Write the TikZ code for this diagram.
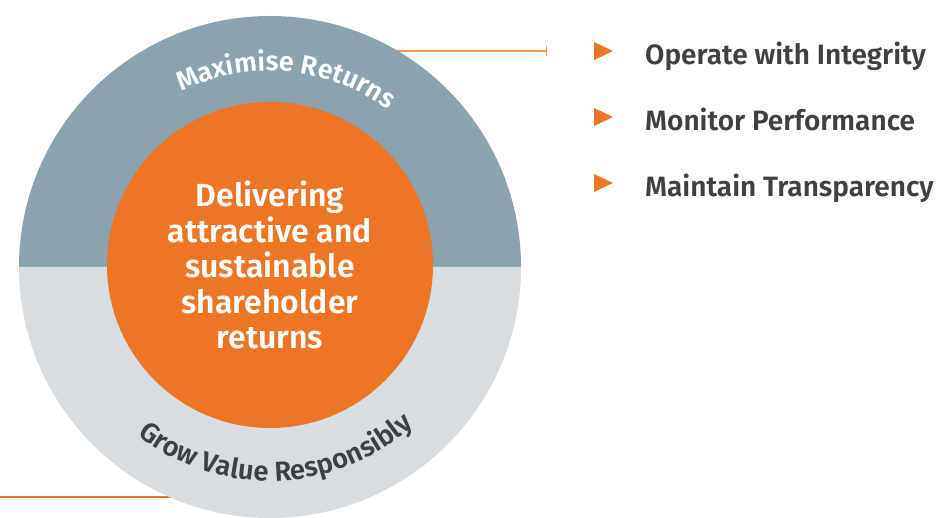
\documentclass[tikz,border=0pt]{standalone}
\usepackage{fontspec}
\setmainfont{Fira Sans}[BoldFont={Fira Sans SemiBold}]
\usetikzlibrary{arrows, decorations.text}
\definecolor{topgrey}{HTML}{8BA3AE}
\definecolor{lowgrey}{HTML}{D8DDE2}
\definecolor{hub}{HTML}{EC7625}
\definecolor{ink}{HTML}{404040}
\definecolor{lead}{HTML}{F0975A}

\begin{document}
\begin{tikzpicture}[x=1pt, y=1pt]
    \tikzstyle{every node} = [inner sep=0pt]
    \tikzstyle{goal} = [font=\fontsize{28}{28}\selectfont\bfseries, text=ink, anchor=base west]
    \useasboundingbox (0, 0) rectangle (941, 517);
    \coordinate (ctr) at (270, 250);
    \draw [lead, line width=1.4pt, -|] (380, 466) -- (547, 466);
    \draw [hub, line width=1.4pt] (0, 20) -- (200, 20);
    \fill [topgrey] ([shift={(0:251)}]ctr) arc (0:180:251) -- cycle;
    \fill [lowgrey] ([shift={(180:251)}]ctr) arc (180:360:251) -- cycle;
    \node (core) [circle, fill=hub, minimum size=326pt] at (270, 252) {};
    \node (aim) [align=center, text=white, font=\fontsize{32}{35.5}\selectfont\bfseries] at (core) {Delivering\\attractive and\\sustainable\\shareholder\\returns};
    \path [decorate, decoration={text along path, text align=center, text={|\fontsize{27}{27}\selectfont\bfseries\color{white}|Maximise Returns}}] ([shift={(150:196)}]ctr) arc (150:20:196);
    \path [decorate, decoration={text along path, text align=center, text={|\fontsize{27.5}{27.5}\selectfont\bfseries\color{ink}|Grow Value Responsibly}}] ([shift={(202:214)}]ctr) arc (202:342:214);
    \foreach \y/\t [count=\i] in {466/Operate with Integrity, 400/Monitor Performance, 334/Maintain Transparency} {
      \fill [hub] (594, \y+9) -- (613, \y) -- (594, \y-9) -- cycle;
      \node (goal\i) [goal] at (645, \y-14) {\t};
    }
\end{tikzpicture}
\end{document}
